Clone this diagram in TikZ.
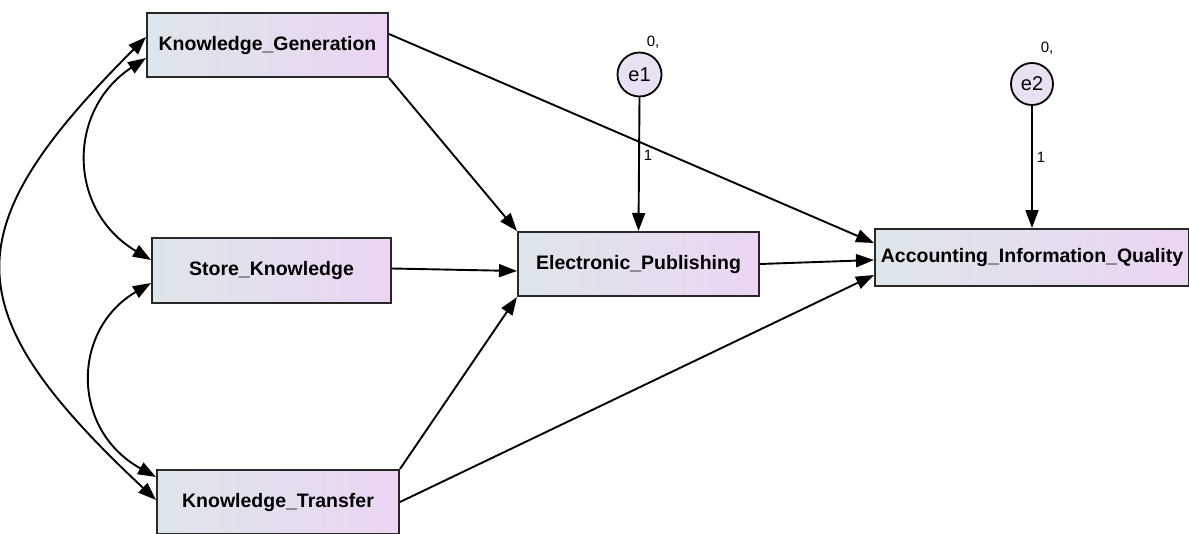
\documentclass[tikz,border=0pt]{standalone}
\usepackage{fontspec}
\setmainfont{Liberation Sans}
\usetikzlibrary{arrows.meta,calc}
\definecolor{boxL}{RGB}{221,230,234}
\definecolor{boxR}{RGB}{236,213,243}
\definecolor{errfill}{RGB}{234,224,243}
\definecolor{edge}{RGB}{40,40,40}
\tikzset{
  var/.style={draw=edge, line width=2pt, left color=boxL, right color=boxR,
    inner sep=0pt, font=\fontsize{19.5}{22}\selectfont\bfseries},
  err/.style={circle, draw=black, line width=1.8pt, fill=errfill, minimum size=44pt,
    inner sep=0pt, font=\fontsize{20}{22}\selectfont},
  small/.style={font=\fontsize{15}{17}\selectfont, inner sep=0pt},
  tip/.style={},
  path/.style={line width=1.9pt, -{Triangle[length=18pt,width=13pt]}},
  cov/.style={line width=1.9pt, {Triangle[length=18pt,width=13pt]}-{Triangle[length=18pt,width=13pt]}}
}
\begin{document}
\begin{tikzpicture}[x=1pt,y=-1pt]
\useasboundingbox (0,0) rectangle (1189,533);
\clip (0,0) rectangle (1189,533);
\fill[white] (0,0) rectangle (1189,533);

\node[var, minimum width=241pt, minimum height=64pt] (kg) at (267.5,45) {Knowledge\_Generation};
\node[var, minimum width=239pt, minimum height=65pt] (sk) at (271.5,270.5) {Store\_Knowledge};
\node[var, minimum width=242pt, minimum height=64pt] (kt) at (278,502) {Knowledge\_Transfer};
\node[var, minimum width=241pt, minimum height=64pt] (ep) at (638.5,264) {Electronic\_Publishing};
\node[var, minimum width=314pt, minimum height=57pt] (aiq) at (1032,257.5) {Accounting\_Information\_Quality};

\node[err] (e1) at (639.5,74.5) {e1};
\node[err, minimum size=42pt] (e2) at (1032,84) {e2};
\node[small] (v1) at (653,42) {0,};
\node[small] (v2) at (1047,48) {0,};
\node[small] (w1) at (648,155) {1};
\node[small] (w2) at (1041,157) {1};

% regression paths
\draw[path] (e1.south) -- (ep.north);
\draw[path] (e2.south) -- (aiq.north);
\draw[path] (kg.south east) -- (ep.north west);
\draw[path] ([yshift=11pt]kg.east) -- ([yshift=14.5pt]aiq.west);
\draw[path] ([yshift=2pt]sk.east) -- ([yshift=-7pt]ep.west);
\draw[path] (ep.east) -- ([yshift=-2.5pt]aiq.west);
\draw[path] (kt.north east) -- (ep.south west);
\draw[path] (kt.east) -- ([yshift=-17.5pt]aiq.west);

% covariances
\draw[cov] ([yshift=8pt]kg.west) .. controls (-47,230) and (-47,310) .. ([yshift=2pt]kt.west);
\draw[cov] ([yshift=-13pt]kg.west) .. controls (67,110) and (67,210) .. ([yshift=10.5pt]sk.west);
\draw[cov] ([yshift=-12.5pt]sk.west) .. controls (71,330) and (71,430) .. ([yshift=25pt]kt.west);
\end{tikzpicture}
\end{document}
